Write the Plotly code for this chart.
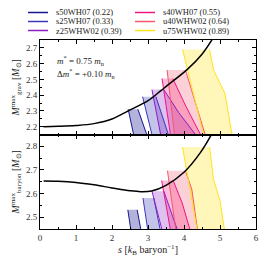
import plotly.graph_objects as go

# ---------------- data ----------------
models = ["s50WH07", "s25WH07", "z25WHW02", "s40WH07", "u40WHW02", "u75WHW02"]
compact = ["0.22", "0.33", "0.39", "0.55", "0.64", "0.89"]
colors = ["#16168f", "#3b38b8", "#8a1fc4", "#f01482", "#f4566e", "#ffe21a"]
fills = ["rgba(22,22,143,0.33)", "rgba(59,56,184,0.30)", "rgba(138,31,196,0.28)",
         "rgba(240,20,130,0.28)", "rgba(244,86,110,0.28)", "rgba(255,226,26,0.30)"]

# black curves: maximum mass vs entropy
s_grav = [0.1, 0.5, 1.0, 1.5, 2.0, 2.45, 3.0, 3.34, 3.53, 4.1, 4.5, 4.8]
M_grav = [2.200, 2.202, 2.207, 2.219, 2.248, 2.30, 2.365, 2.425, 2.46, 2.565, 2.66, 2.76]
s_bary = [0.1, 0.5, 1.0, 1.5, 2.0, 2.5, 2.8, 3.1, 3.5, 4.0, 4.45, 4.8]
M_bary = [2.653, 2.652, 2.647, 2.637, 2.624, 2.612, 2.608, 2.611, 2.635, 2.69, 2.772, 2.86]

# gravitational-mass regions: left and right edges
grav_left_s = [[2.45, 2.61], [2.85, 3.12], [3.11, 3.36], [3.39, 3.63], [3.53, 3.74], [3.96, 4.55]]
grav_left_M = [[2.31, 2.14], [2.39, 2.14], [2.435, 2.14], [2.505, 2.14], [2.56, 2.14], [2.69, 2.14]]
grav_right_s = [[2.72, 2.85, 2.98], [3.22, 3.40, 3.58], [3.44, 3.85, 4.35],
                [3.69, 4.05, 4.48], [4.04, 4.25, 4.60], [4.71, 4.82, 5.14, 5.34]]
grav_right_M = [[2.31, 2.23, 2.14], [2.39, 2.26, 2.14], [2.435, 2.29, 2.14],
                [2.505, 2.33, 2.14], [2.56, 2.40, 2.14], [2.69, 2.56, 2.41, 2.14]]

# baryonic-mass regions
bary_left_s = [[2.44, 2.53], [2.86, 3.00], [3.11, 3.40], [3.38, 3.63], [3.54, 3.78], [3.96, 4.37]]
bary_left_M = [[2.531, 2.44], [2.581, 2.44], [2.61, 2.44], [2.655, 2.44], [2.697, 2.44], [2.797, 2.44]]
bary_right_s = [[2.70, 2.81], [3.16, 3.35], [3.44, 3.83], [3.70, 3.95, 4.18],
                [4.04, 4.22, 4.38], [4.71, 4.82, 5.0, 5.13]]
bary_right_M = [[2.531, 2.44], [2.581, 2.44], [2.61, 2.44], [2.655, 2.56, 2.44],
                [2.697, 2.616, 2.44], [2.797, 2.66, 2.57, 2.44]]

x_ticks = [0, 1, 2, 3, 4, 5, 6]
grav_ticks = [2.2, 2.3, 2.4, 2.5, 2.6, 2.7]
bary_ticks = [2.5, 2.6, 2.7, 2.8]

# ---------------- figure ----------------
FONT = "Liberation Serif"
fig = go.Figure()


def add_regions(ls, lM, rs, rM, xa, ya):
    for i in range(len(models)):
        poly_s = ls[i] + rs[i][::-1]
        poly_M = lM[i] + rM[i][::-1]
        fig.add_trace(go.Scatter(x=poly_s, y=poly_M, fill="toself", fillcolor=fills[i],
                                 line=dict(width=0), mode="lines", showlegend=False,
                                 hoverinfo="skip", xaxis=xa, yaxis=ya))
    for i in range(len(models)):
        for es, eM in ((ls[i], lM[i]), (rs[i], rM[i])):
            fig.add_trace(go.Scatter(x=es, y=eM, mode="lines",
                                     line=dict(color=colors[i], width=1),
                                     showlegend=False, hoverinfo="skip", xaxis=xa, yaxis=ya))


add_regions(grav_left_s, grav_left_M, grav_right_s, grav_right_M, "x", "y")
add_regions(bary_left_s, bary_left_M, bary_right_s, bary_right_M, "x2", "y2")

fig.add_trace(go.Scatter(x=s_grav, y=M_grav, mode="lines", line=dict(color="black", width=1.5, shape="spline"),
                         showlegend=False, xaxis="x", yaxis="y"))
fig.add_trace(go.Scatter(x=s_bary, y=M_bary, mode="lines", line=dict(color="black", width=1.5, shape="spline"),
                         showlegend=False, xaxis="x2", yaxis="y2"))

# page body has an 8px margin, so the figure is 8px smaller and margins reduced by 8
W, H = 261, 261
ML, MR, MT, MB = 32, 13, 32, 40
OFF = 8
pw, ph = W - ML - MR, H - MT - MB


def px_x(ax):
    return (ax - OFF - ML) / pw


def px_y(ay):
    return 1 - (ay - OFF - MT) / ph


# manual compact legend (two columns, column-major)
col_x = [28, 135]
row_y = [12.5, 21.5, 30.5]
shapes = []
annotations = []
for i, (name, c) in enumerate(zip(models, compact)):
    col, row = divmod(i, 3)
    yy = px_y(row_y[row])
    shapes.append(dict(type="line", xref="paper", yref="paper", x0=px_x(col_x[col]),
                       x1=px_x(col_x[col] + 20), y0=yy, y1=yy,
                       line=dict(color=colors[i], width=1.5)))
    annotations.append(dict(xref="paper", yref="paper", x=px_x(col_x[col] + 26), y=yy,
                            text=f"{name} ({c})", showarrow=False, xanchor="left", yanchor="middle",
                            font=dict(family=FONT, size=8.5, color="#222")))

annotations.append(dict(xref="paper", yref="paper", x=px_x(55), y=px_y(60.7),
                        text="<i>m</i><sup>*</sup> = 0.75 <i>m</i><sub>n</sub>", showarrow=False,
                        xanchor="left", yanchor="middle", font=dict(family=FONT, size=9, color="#222")))
annotations.append(dict(xref="paper", yref="paper", x=px_x(55), y=px_y(73.3),
                        text="Δ<i>m</i><sup>*</sup> = +0.10 <i>m</i><sub>n</sub>", showarrow=False,
                        xanchor="left", yanchor="middle", font=dict(family=FONT, size=9, color="#222")))

axis_common = dict(showline=True, linecolor="black", linewidth=1, mirror="ticks", ticks="inside",
                   ticklen=4, tickcolor="black", showgrid=False, zeroline=False, automargin=False,
                   tickfont=dict(family=FONT, size=9, color="#333"))

fig.update_layout(
    width=W, height=H, margin=dict(l=ML, r=MR, t=MT, b=MB),
    paper_bgcolor="white", plot_bgcolor="white", showlegend=False,
    shapes=shapes, annotations=annotations,
    xaxis=dict(range=[0, 6], tickvals=x_ticks, showticklabels=False, anchor="y", domain=[0, 1],
               minor=dict(ticks="inside", ticklen=2, dtick=0.5, tickcolor="black"), **axis_common),
    yaxis=dict(range=[2.15, 2.75], tickvals=grav_ticks, domain=[0.5, 1], anchor="x",
               minor=dict(ticks="inside", ticklen=2, dtick=0.05, tickcolor="black"),
               title=dict(text="<i>M</i><sup>max</sup><sub>grav</sub> [<i>M</i><sub>⊙</sub>]",
                          font=dict(family=FONT, size=10, color="#222"), standoff=4),
               **axis_common),
    xaxis2=dict(range=[0, 6], tickvals=x_ticks, anchor="y2", domain=[0, 1],
                minor=dict(ticks="inside", ticklen=2, dtick=0.5, tickcolor="black"),
                title=dict(text="<i>s</i> [<i>k</i><sub>B</sub> baryon<sup>−1</sup>]",
                           font=dict(family=FONT, size=10, color="#222"), standoff=2),
                **axis_common),
    yaxis2=dict(range=[2.45, 2.85], tickvals=bary_ticks, domain=[0, 0.5], anchor="x2",
                minor=dict(ticks="inside", ticklen=2, dtick=0.05, tickcolor="black"),
                title=dict(text="<i>M</i><sup>max</sup><sub>baryon</sub> [<i>M</i><sub>⊙</sub>]",
                           font=dict(family=FONT, size=10, color="#222"), standoff=4),
                **axis_common),
)

fig.write_html("out.html")
